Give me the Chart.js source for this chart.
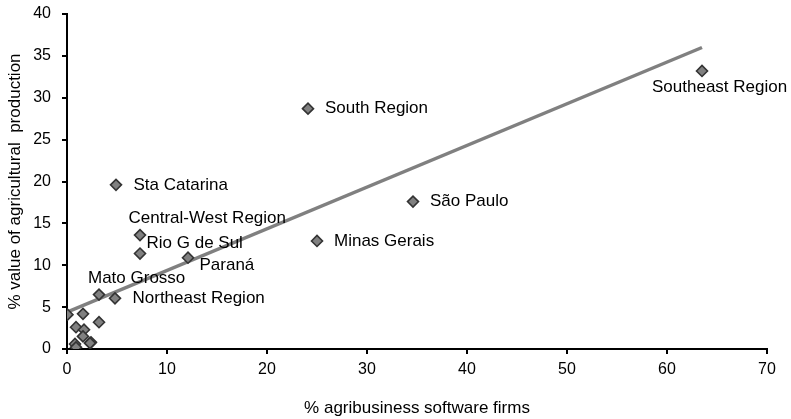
<!DOCTYPE html>
<html>
<head>
<meta charset="utf-8">
<script src="https://cdn.jsdelivr.net/npm/chart.js@4/dist/chart.umd.min.js"></script>
<style>
  html, body { margin: 0; padding: 0; background: #fff; }
  #wrap { width: 791px; height: 419px; position: relative; }
</style>
</head>
<body>
<div id="wrap"><canvas id="c" width="791" height="419"></canvas></div>
<script>
// ---- data ----
const names = [
  "Southeast Region", "South Region", "São Paulo", "Minas Gerais",
  "Sta Catarina", "Central-West Region", "Rio G de Sul", "Paraná",
  "Mato Grosso", "Northeast Region",
  "", "", "", "", "", "", "", "", "", ""
];
const softwareFirms = [
  63.5, 24.1, 34.6, 25.0,
  4.9, 7.3, 7.3, 12.1,
  3.2, 4.8,
  0.05, 1.6, 3.2, 0.9, 1.7, 1.6, 2.4, 0.8, 0.9, 2.3
];
const agriProduction = [
  33.2, 28.7, 17.6, 12.9,
  19.6, 13.6, 11.4, 10.9,
  6.5, 6.05,
  4.1, 4.2, 3.2, 2.6, 2.3, 1.5, 0.8, 0.6, 0.2, 0.7
];
const trendX = [0, 63.5];
const trendY = [4.4, 36.0];
const xTicks = [0, 10, 20, 30, 40, 50, 60, 70];
const yTicks = [0, 5, 10, 15, 20, 25, 30, 35, 40];

// label placement (pixel offsets of text start / middle from the marker)
const labelOffsets = {
  "Southeast Region": [-50, 16],
  "South Region": [17, 0],
  "São Paulo": [17, 0],
  "Minas Gerais": [17, 0],
  "Sta Catarina": [17.5, 0],
  "Central-West Region": [-11.5, -16.5],
  "Rio G de Sul": [6.5, -10],
  "Paraná": [11.5, 7.5],
  "Mato Grosso": [-11, -16],
  "Northeast Region": [17.5, 0]
};

const FONT = "'Liberation Sans', Arial, sans-serif";

const pointLabels = {
  id: 'pointLabels',
  afterDatasetsDraw(chart) {
    const ctx = chart.ctx;
    const xs = chart.scales.x, ys = chart.scales.y;
    ctx.save();
    ctx.font = "17px " + FONT;
    ctx.fillStyle = "#000";
    ctx.textAlign = "left";
    ctx.textBaseline = "middle";
    names.forEach((n, i) => {
      if (!n) return;
      const off = labelOffsets[n] || [15, 0];
      const px = xs.getPixelForValue(softwareFirms[i]);
      const py = ys.getPixelForValue(agriProduction[i]);
      ctx.fillText(n, px + off[0], py + off[1]);
    });
    ctx.restore();
  }
};

const points = softwareFirms.map((x, i) => ({ x: x, y: agriProduction[i] }));
const trend = trendX.map((x, i) => ({ x: x, y: trendY[i] }));

new Chart(document.getElementById('c'), {
  type: 'scatter',
  data: {
    datasets: [
      {
        label: 'states',
        data: points,
        pointStyle: 'rectRot',
        pointRadius: 5.5,
        pointHoverRadius: 5.5,
        backgroundColor: '#808080',
        borderColor: '#333333',
        borderWidth: 1.6
      },
      {
        type: 'line',
        label: 'trend',
        data: trend,
        borderColor: '#808080',
        borderWidth: 3.5,
        pointRadius: 0,
        fill: false,
        tension: 0
      }
    ]
  },
  plugins: [pointLabels],
  options: {
    responsive: false,
    animation: false,
    events: [],
    layout: { padding: { top: 14, right: 24, left: 0, bottom: 0 } },
    plugins: {
      legend: { display: false },
      tooltip: { enabled: false }
    },
    scales: {
      x: {
        type: 'linear',
        min: 0, max: 70,
        afterBuildTicks: (s) => { s.ticks = xTicks.map(v => ({ value: v })); },
        afterFit: (s) => { s.height = 70; s.paddingLeft = 0; s.paddingRight = 0; },
        grid: { display: true, drawOnChartArea: false, drawTicks: true, tickLength: 5, color: '#000', lineWidth: 2 },
        border: { display: true, color: '#000', width: 2 },
        ticks: { color: '#000', font: { family: FONT, size: 16 }, padding: 6, maxRotation: 0 },
        title: { display: true, text: '% agribusiness software firms', color: '#000', font: { family: FONT, size: 17 }, padding: { top: 7, bottom: 0 } }
      },
      y: {
        type: 'linear',
        min: 0, max: 40,
        afterBuildTicks: (s) => { s.ticks = yTicks.map(v => ({ value: v })); },
        afterFit: (s) => { s.width = 67; s.paddingTop = 0; s.paddingBottom = 0; },
        grid: { display: true, drawOnChartArea: false, drawTicks: true, tickLength: 5, color: '#000', lineWidth: 2 },
        border: { display: true, color: '#000', width: 2 },
        ticks: { color: '#000', font: { family: FONT, size: 16 }, padding: 11 },
        title: { display: true, text: '% value of agricultural  production', color: '#000', font: { family: FONT, size: 17 }, padding: { top: 5, bottom: 0 } }
      }
    }
  }
});
</script>
</body>
</html>
